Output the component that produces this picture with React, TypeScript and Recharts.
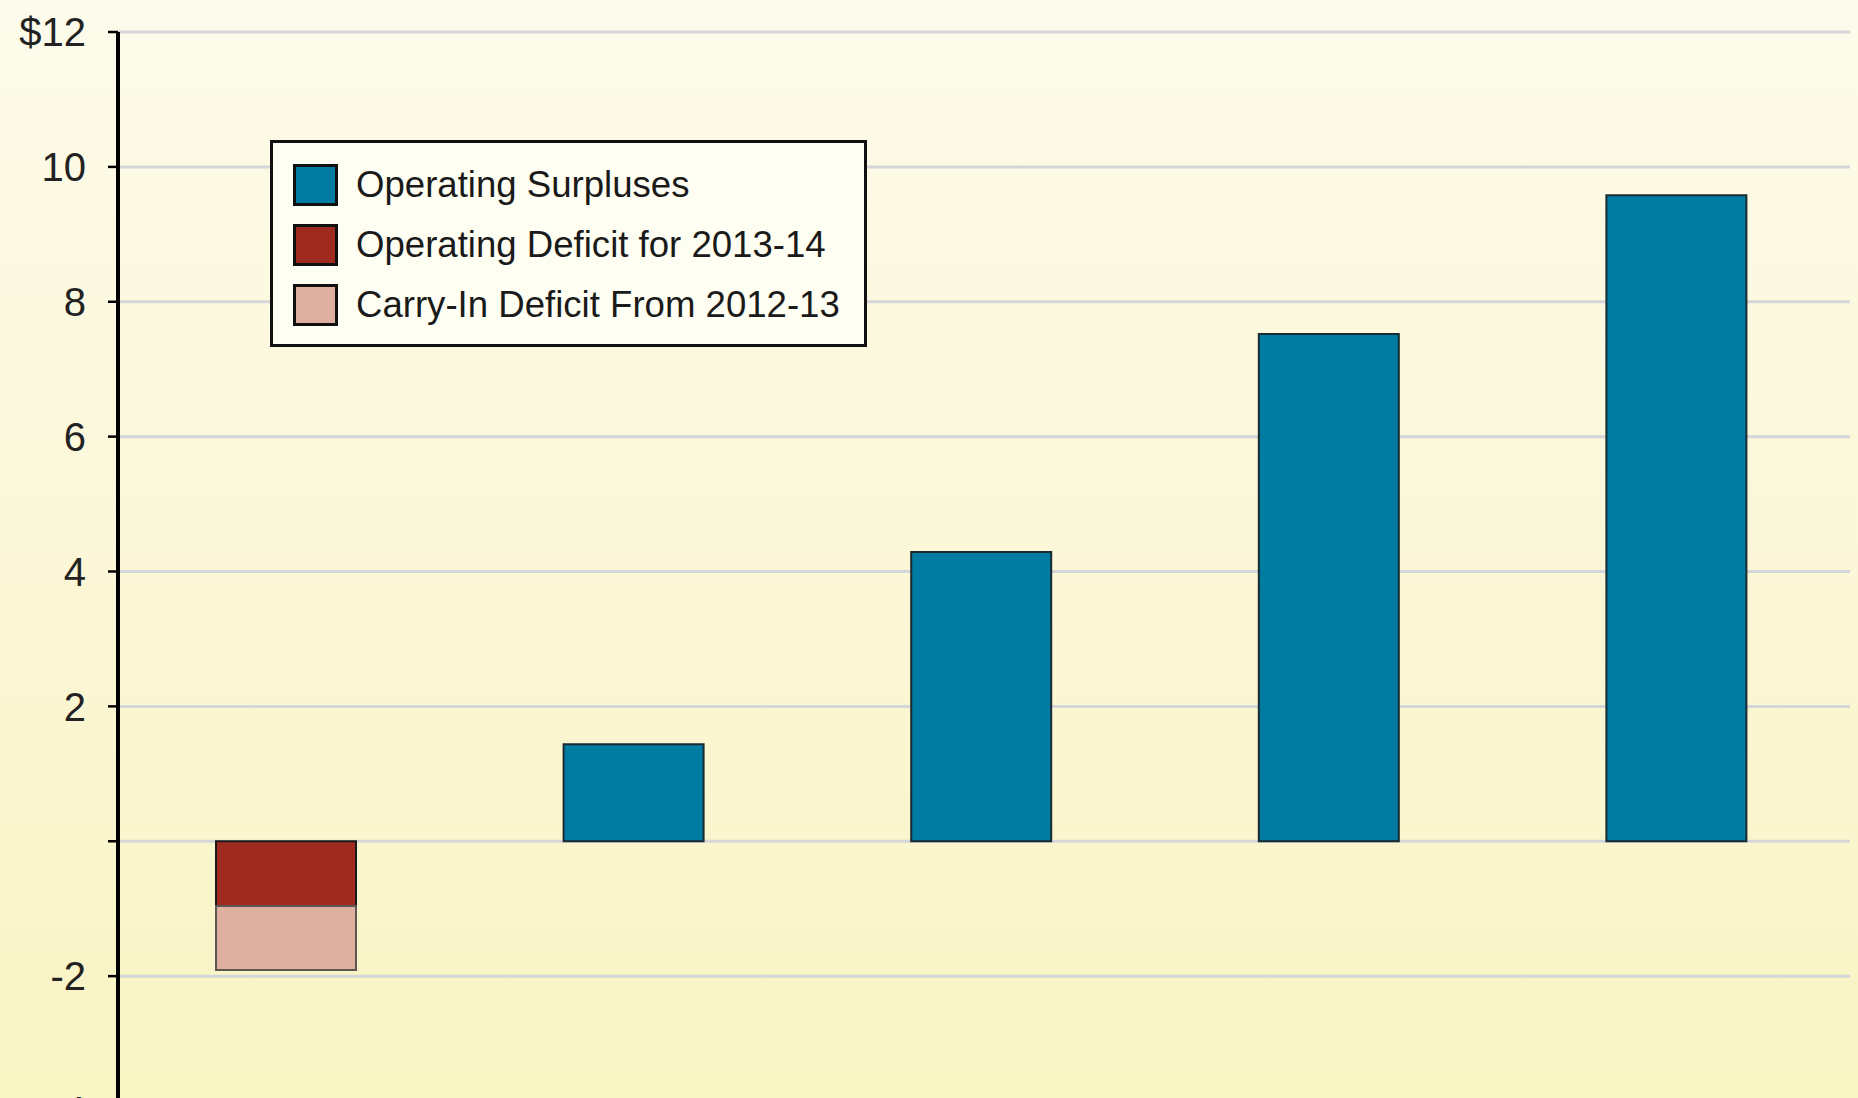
import React from "react";
import { BarChart, Bar, XAxis, YAxis, CartesianGrid } from "recharts";

const categories = ["2013-14", "2014-15", "2015-16", "2016-17", "2017-18"];
const surpluses = [0, 1.44, 4.29, 7.52, 9.58];
const deficit2013 = [-0.96, 0, 0, 0, 0];
const carryIn = [-0.95, 0, 0, 0, 0];
const yTicks = [-4, -2, 0, 2, 4, 6, 8, 10, 12];

const SERIES = [
    { key: "surplus", name: "Operating Surpluses", color: "#007ba1", stroke: "#1b2a30" },
    { key: "deficit", name: "Operating Deficit for 2013-14", color: "#9e2a20", stroke: "#1a1a1a" },
    { key: "carryIn", name: "Carry-In Deficit From 2012-13", color: "#ddb0a0", stroke: "#5e5650" },
];

const data = categories.map((c, i) => ({
    year: c,
    surplus: surpluses[i],
    deficit: deficit2013[i],
    carryIn: carryIn[i],
}));

const FONT = '"Liberation Sans", Arial, Helvetica, sans-serif';

// legend drawn as an overlay box, like the original
function LegendBox() {
    return (
        <div style={{
            position: "absolute",
            left: 270,
            top: 140,
            background: "#fffef2",
            border: "3px solid #111",
            width: 597,
            height: 207,
            boxSizing: "border-box",
            paddingTop: 12,
            paddingLeft: 20,
            fontFamily: FONT,
        }}>
            {SERIES.map(s => (
                <div key={s.key} style={{ display: "flex", alignItems: "center", height: 60 }}>
                    <div style={{
                        width: 39, height: 36, background: s.color,
                        border: "3px solid #111", marginRight: 18,
                    }} />
                    <span style={{ fontSize: 36.6, color: "#1a1a1a", whiteSpace: "nowrap" }}>{s.name}</span>
                </div>
            ))}
        </div>
    );
}

export default function App() {
    return (
        <div style={{
            position: "fixed", left: 0, top: 0, width: 1858, height: 1098, overflow: "hidden",
            background: "linear-gradient(to bottom, #fdfbeb 0%, #fbf7d8 50%, #f9f4c3 100%)",
        }}>
            <BarChart
                width={1858}
                height={1130}
                data={data}
                margin={{ top: 32, right: 8, left: 0, bottom: 19 }}
                barSize={140}
                stackOffset="sign"
            >
                <CartesianGrid vertical={false} stroke="#d4d6da" strokeWidth={3} />
                <XAxis dataKey="year" hide padding={{ left: -6, right: 0 }} />
                <YAxis
                    domain={[-4, 12]}
                    ticks={yTicks}
                    interval={0}
                    width={118}
                    axisLine={{ stroke: "#000", strokeWidth: 4 }}
                    tickLine={{ stroke: "#000", strokeWidth: 2.5 }}
                    tickSize={10}
                    tickMargin={22}
                    tickFormatter={(v: number) => (v === 0 ? "" : v === 12 ? "$12" : String(v))}
                    tick={{ fontSize: 40, fill: "#222", fontFamily: FONT }}
                />
                {SERIES.map(s => (
                    <Bar
                        key={s.key}
                        dataKey={s.key}
                        name={s.name}
                        stackId="a"
                        fill={s.color}
                        stroke={s.stroke}
                        strokeWidth={2}
                        isAnimationActive={false}
                    />
                ))}
            </BarChart>
            <LegendBox />
        </div>
    );
}
